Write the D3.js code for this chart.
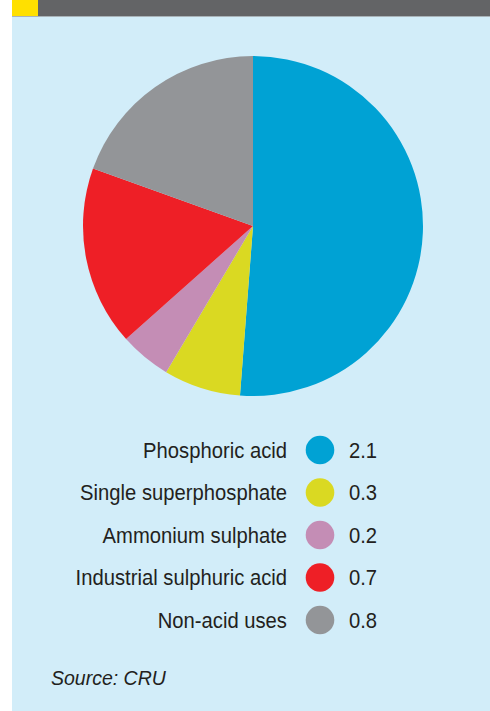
<!DOCTYPE html>
<html>
<head>
<meta charset="utf-8">
<script src="https://cdn.jsdelivr.net/npm/d3@7/dist/d3.min.js"></script>
<style>
  html, body { margin: 0; padding: 0; background: #ffffff; }
  svg { display: block; }
  text { font-family: "Liberation Sans", Arial, sans-serif; }
</style>
</head>
<body>
<svg id="chart" width="490" height="711"></svg>
<script>
// Sulphuric acid demand by end use (million tonnes)
const categories = ["Phosphoric acid", "Single superphosphate", "Ammonium sulphate", "Industrial sulphuric acid", "Non-acid uses"];
const values = [2.1, 0.3, 0.2, 0.7, 0.8];
const valueLabels = ["2.1", "0.3", "0.2", "0.7", "0.8"];
const colors = ["#00a2d4", "#dad922", "#c48db5", "#ee1f26", "#939598"];
const sourceText = "Source: CRU";

const svg = d3.select("#chart");
const W = 490, H = 711;

// Panel background and header strip
svg.append("rect").attr("x", 12).attr("y", 0).attr("width", W - 12).attr("height", H).attr("fill", "#d2edf9");
svg.append("rect").attr("x", 12).attr("y", 0).attr("width", W - 12).attr("height", 16).attr("fill", "#636466");
svg.append("rect").attr("x", 12).attr("y", 16).attr("width", W - 12).attr("height", 1).attr("fill", "#a9b3b8");
svg.append("rect").attr("x", 12).attr("y", 0).attr("width", 26).attr("height", 16).attr("fill", "#ffe000");

// Pie
const cx = 253, cy = 226, r = 170;
const data = categories.map((c, i) => ({ name: c, value: values[i], label: valueLabels[i] }));
const color = d3.scaleOrdinal().domain(categories).range(colors);
const pie = d3.pie().sort(null).value(d => d.value);
const arc = d3.arc().innerRadius(0).outerRadius(r);

svg.append("g")
  .attr("transform", `translate(${cx},${cy})`)
  .selectAll("path")
  .data(pie(data))
  .join("path")
  .attr("d", arc)
  .attr("fill", d => color(d.data.name));

// Legend: condensed labels, swatch, value
const rowY = d3.scalePoint().domain(categories).range([450, 620]);
const condense = 0.92;
const rows = svg.append("g").selectAll("g.row").data(data).join("g")
  .attr("class", "row")
  .attr("transform", d => `translate(0,${rowY(d.name)})`);

rows.append("text")
  .attr("transform", `translate(287,0) scale(${condense},1)`)
  .attr("dy", "0.35em")
  .attr("text-anchor", "end")
  .attr("font-size", 22)
  .attr("fill", "#231f20")
  .text(d => d.name);

rows.append("circle")
  .attr("cx", 320).attr("cy", 0).attr("r", 14.3)
  .attr("fill", d => color(d.name));

rows.append("text")
  .attr("transform", `translate(349,0) scale(${condense},1)`)
  .attr("dy", "0.35em")
  .attr("font-size", 22)
  .attr("fill", "#231f20")
  .text(d => d.label);

// Source note
svg.append("text")
  .attr("x", 51).attr("y", 685)
  .attr("font-size", 19.5)
  .attr("font-style", "italic")
  .attr("fill", "#231f20")
  .text(sourceText);
</script>
</body>
</html>
